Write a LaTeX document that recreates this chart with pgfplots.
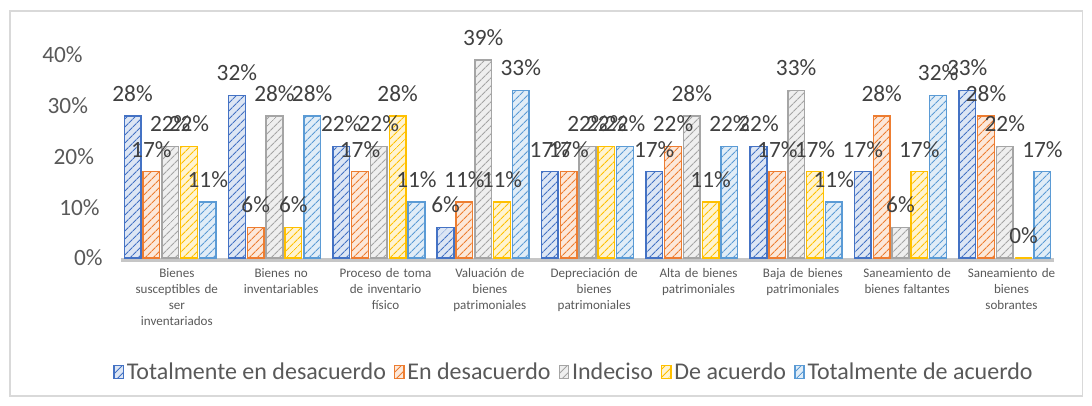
\documentclass[border=0pt]{standalone}
\usepackage{fontspec}
\setmainfont{Carlito}
\usepackage{pgfplots}
\pgfplotsset{compat=1.18}
\usetikzlibrary{patterns.meta}
\definecolor{cTD}{HTML}{4472C4}
\definecolor{cED}{HTML}{ED7D31}
\definecolor{cIN}{HTML}{A5A5A5}
\definecolor{cDA}{HTML}{FFC000}
\definecolor{cTA}{HTML}{5B9BD5}
\definecolor{txt}{HTML}{404040}
\definecolor{txtg}{HTML}{595959}
\pgfplotsset{
  hbar/.style={draw=#1, line width=1.1pt, fill=#1!18,
    postaction={pattern={Lines[angle=45,distance=4pt,line width=0.8pt]}, pattern color=#1}},
}
\begin{document}
\begin{tikzpicture}
\path (0,0) rectangle (819pt,-303.75pt);
\draw[color=gray!30, line width=0.8pt] (7.5pt,-8.25pt) rectangle (812pt,-297pt);
\begin{axis}[
  set layers=standard,
  at={(88.5pt,-193.5pt)}, anchor=south west,
  scale only axis, width=704.25pt, height=152.25pt,
  xmin=-0.5, xmax=8.5, ymin=0, ymax=40,
  ybar=1.6pt, bar width=12.5pt,
  axis line style={draw=none},
  major tick style={draw=none},
  /pgf/number format/assume math mode=true,
  xtick={0,...,8},
  xticklabels={{Bienes\\susceptibles de\\ser\\inventariados},{Bienes no\\inventariables},{Proceso de toma\\de inventario\\físico},{Valuación de\\bienes\\patrimoniales},{Depreciación de\\bienes\\patrimoniales},{Alta de bienes\\patrimoniales},{Baja de bienes\\patrimoniales},{Saneamiento de\\bienes faltantes},{Saneamiento de\\bienes\\sobrantes}},
  xticklabel style={text width=75pt, align=center, font=\fontsize{9.8}{12}\selectfont, text=txtg, xshift=5pt, yshift=0pt},
  ytick={0,10,20,30,40},
  yticklabels={0\%,10\%\kern2.25pt\null,20\%\kern6.5pt\null,30\%\kern11pt\null,40\%\kern15pt\null},
  yticklabel style={font=\fontsize{17.5}{18}\selectfont, text=txtg, xshift=-8pt},
  nodes near coords={\pgfmathprintnumber{\pgfplotspointmeta}\%},
  nodes near coords style={font=\fontsize{17.5}{18}\selectfont, text=txt, anchor=south, yshift=7pt},
  legend columns=5,
  legend style={at={(0.486,-0.562)}, anchor=center, draw=none, fill=none,
    font=\fontsize{18}{19}\selectfont, text=txtg,
    /tikz/every even column/.append style={column sep=4pt}},
  legend image code/.code={\draw[#1] (0pt,-5pt) rectangle (7pt,5pt);},
  clip=false,
]
\draw[on layer=axis background, gray!45, line width=3pt] (axis cs:-0.47,-0.4) -- (axis cs:8.47,-0.4);
\addplot[hbar=cTD] coordinates {(0,28) (1,32) (2,22) (3,6) (4,17) (5,17) (6,22) (7,17) (8,33)};
\addplot[hbar=cED] coordinates {(0,17) (1,6) (2,17) (3,11) (4,17) (5,22) (6,17) (7,28) (8,28)};
\addplot[hbar=cIN] coordinates {(0,22) (1,28) (2,22) (3,39) (4,22) (5,28) (6,33) (7,6) (8,22)};
\addplot[hbar=cDA] coordinates {(0,22) (1,6) (2,28) (3,11) (4,22) (5,11) (6,17) (7,17) (8,0)};
\addplot[hbar=cTA] coordinates {(0,11) (1,28) (2,11) (3,33) (4,22) (5,22) (6,11) (7,32) (8,17)};
\legend{Totalmente en desacuerdo,En desacuerdo,Indeciso,De acuerdo,Totalmente de acuerdo}
\end{axis}
\end{tikzpicture}
\end{document}
